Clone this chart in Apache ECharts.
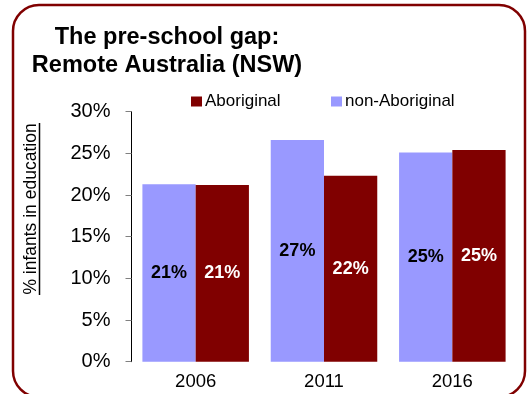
<!DOCTYPE html>
<html>
<head>
<meta charset="utf-8">
<script src="https://cdn.jsdelivr.net/npm/echarts@6/dist/echarts.min.js"></script>
<style>
  html, body { margin: 0; padding: 0; background: #fff; }
  #chart { width: 531px; height: 394px; }
</style>
</head>
<body>
<div id="chart"></div>
<script>
// Share of infants in pre-school education, remote NSW
const years = ['2006', '2011', '2016'];
const nonAboriginal = [21.3, 26.6, 25.1];
const aboriginal = [21.2, 22.3, 25.4];
const yTicks = { min: 0, max: 30, interval: 5 };

const SANS = "'Liberation Sans', Arial, sans-serif";
const DARK_RED = '#800000';
const LILAC = '#9999FF';

const chart = echarts.init(document.getElementById('chart'));

const pct = p => Math.round(p.value) + '%';

const legendText = { fontFamily: SANS, fontSize: 17, color: '#000', padding: [0, 0, 0, -2] };

chart.setOption({
  animation: false,
  backgroundColor: '#fff',
  title: {
    text: 'The pre-school gap:\nRemote Australia (NSW)',
    left: 162,
    top: 19,
    textAlign: 'center',
    textStyle: {
      fontFamily: SANS, fontWeight: 'bold', fontSize: 23.5,
      lineHeight: 28, color: '#000'
    }
  },
  legend: [
    {
      data: ['Aboriginal'], left: 186, top: 88,
      itemWidth: 11, itemHeight: 10, icon: 'rect', textStyle: legendText
    },
    {
      data: ['non-Aboriginal'], left: 326, top: 88,
      itemWidth: 11, itemHeight: 10, icon: 'rect', textStyle: legendText
    }
  ],
  grid: { left: 131.5, right: 14.5, top: 111.7, bottom: 32.3, containLabel: false },
  xAxis: {
    type: 'category',
    data: years,
    axisLine: { show: false },
    axisTick: { show: false },
    axisLabel: { fontFamily: SANS, fontSize: 18.5, color: '#000', margin: 11 }
  },
  yAxis: {
    type: 'value',
    min: yTicks.min, max: yTicks.max, interval: yTicks.interval,
    splitLine: { show: false },
    axisLine: { show: true, lineStyle: { color: '#000', width: 1 } },
    axisTick: { show: true, length: 6, lineStyle: { color: '#808080' } },
    axisLabel: {
      fontFamily: SANS, fontSize: 20, color: '#000', margin: 21,
      formatter: v => v + '%'
    }
  },
  series: [
    {
      name: 'non-Aboriginal', type: 'bar', data: nonAboriginal,
      barGap: '0%', barCategoryGap: '17%',
      itemStyle: { color: LILAC },
      label: {
        show: true, position: 'inside', formatter: pct,
        fontFamily: SANS, fontWeight: 'bold', fontSize: 18, color: '#000'
      }
    },
    {
      name: 'Aboriginal', type: 'bar', data: aboriginal,
      barGap: '0%', barCategoryGap: '17%',
      itemStyle: { color: DARK_RED },
      label: {
        show: true, position: 'inside', formatter: pct,
        fontFamily: SANS, fontWeight: 'bold', fontSize: 18, color: '#fff'
      }
    }
  ],
  graphic: [
    {
      type: 'rect', z: 100, silent: true,
      shape: { x: 13, y: 5, width: 512, height: 392, r: 26 },
      style: { fill: 'none', stroke: DARK_RED, lineWidth: 2.5 }
    },
    {
      type: 'text', x: 31, y: 209, rotation: Math.PI / 2,
      style: {
        text: '% infants in education', fontFamily: SANS, fontSize: 17.5,
        fill: '#000', align: 'center', verticalAlign: 'middle'
      }
    },
    {
      type: 'line',
      shape: { x1: 39.5, y1: 123, x2: 39.5, y2: 295 },
      style: { stroke: '#000', lineWidth: 1.5 }
    }
  ]
});
</script>
</body>
</html>
